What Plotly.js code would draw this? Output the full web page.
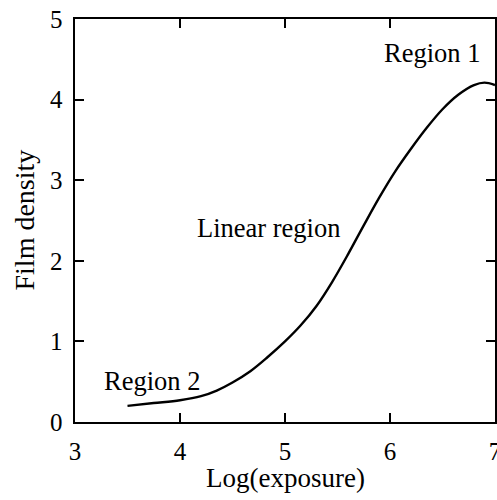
<!DOCTYPE html>
<html>
<head>
<meta charset="utf-8">
<script src="https://cdn.plot.ly/plotly-3.0.1.min.js"></script>
<style>html,body{margin:0;padding:0;background:#fff;}#chart{width:497px;height:500px;}</style>
</head>
<body>
<div id="chart"></div>
<script>
const logExposure = [3.5, 3.75, 4.0, 4.2, 4.35, 4.5, 4.67, 4.83, 5.0, 5.15, 5.3, 5.45, 5.6, 5.75, 5.9, 6.05, 6.2, 6.35, 6.5, 6.65, 6.8, 6.9, 7.0];
const filmDensity = [0.20, 0.235, 0.27, 0.32, 0.39, 0.49, 0.63, 0.80, 1.00, 1.20, 1.44, 1.74, 2.08, 2.44, 2.79, 3.11, 3.39, 3.65, 3.88, 4.06, 4.18, 4.21, 4.18];
const labelTexts = ["Region 1", "Linear region", "Region 2"];
const labelX = [6.40, 4.84, 3.73];
const labelY = [4.58, 2.41, 0.51];
const xTicks = [3, 4, 5, 6, 7];
const yTicks = [0, 1, 2, 3, 4, 5];
const xTitle = 'Log(exposure)';
const yTitle = 'Film density';

const serif = "'Liberation Serif', 'Times New Roman', serif";

const trace = {
  x: logExposure, y: filmDensity, type: 'scatter', mode: 'lines',
  line: {color: '#000', width: 2.4, shape: 'spline', smoothing: 1},
  hoverinfo: 'none', showlegend: false
};

const annotations = labelTexts.map((t, i) => ({
  x: labelX[i], y: labelY[i], xref: 'x', yref: 'y', text: t, showarrow: false,
  font: {family: serif, size: 26.5, color: '#000'}, xanchor: 'center', yanchor: 'middle'
}));
annotations.push({
  x: 0, y: 0.5, xref: 'paper', yref: 'paper', xshift: -51, text: yTitle, showarrow: false,
  textangle: -90, font: {family: serif, size: 28, color: '#000'}, xanchor: 'center', yanchor: 'middle'
});
annotations.push({
  x: 0.5, y: 0, xref: 'paper', yref: 'paper', yshift: -56, text: xTitle, showarrow: false,
  font: {family: serif, size: 27, color: '#000'}, xanchor: 'center', yanchor: 'middle'
});

const axisCommon = {
  showgrid: false, zeroline: false, showline: true, linecolor: '#000', linewidth: 2.4,
  mirror: 'allticks', ticks: 'inside', ticklen: 9, tickwidth: 2, tickcolor: '#000',
  tickfont: {family: serif, size: 25, color: '#000'}, ticklabeloverflow: 'allow'
};

const layout = {
  width: 497, height: 500,
  margin: {l: 75, r: 2, t: 19, b: 78},
  paper_bgcolor: '#fff', plot_bgcolor: '#fff',
  xaxis: Object.assign({}, axisCommon, {
    range: [3, 7], tickvals: xTicks, ticktext: xTicks.map(String), ticklabelstandoff: 6
  }),
  yaxis: Object.assign({}, axisCommon, {
    range: [0, 5], tickvals: yTicks, ticktext: yTicks.map(String), ticklabelstandoff: 5
  }),
  annotations: annotations
};

Plotly.newPlot('chart', [trace], layout, {staticPlot: true, displayModeBar: false});
</script>
</body>
</html>
